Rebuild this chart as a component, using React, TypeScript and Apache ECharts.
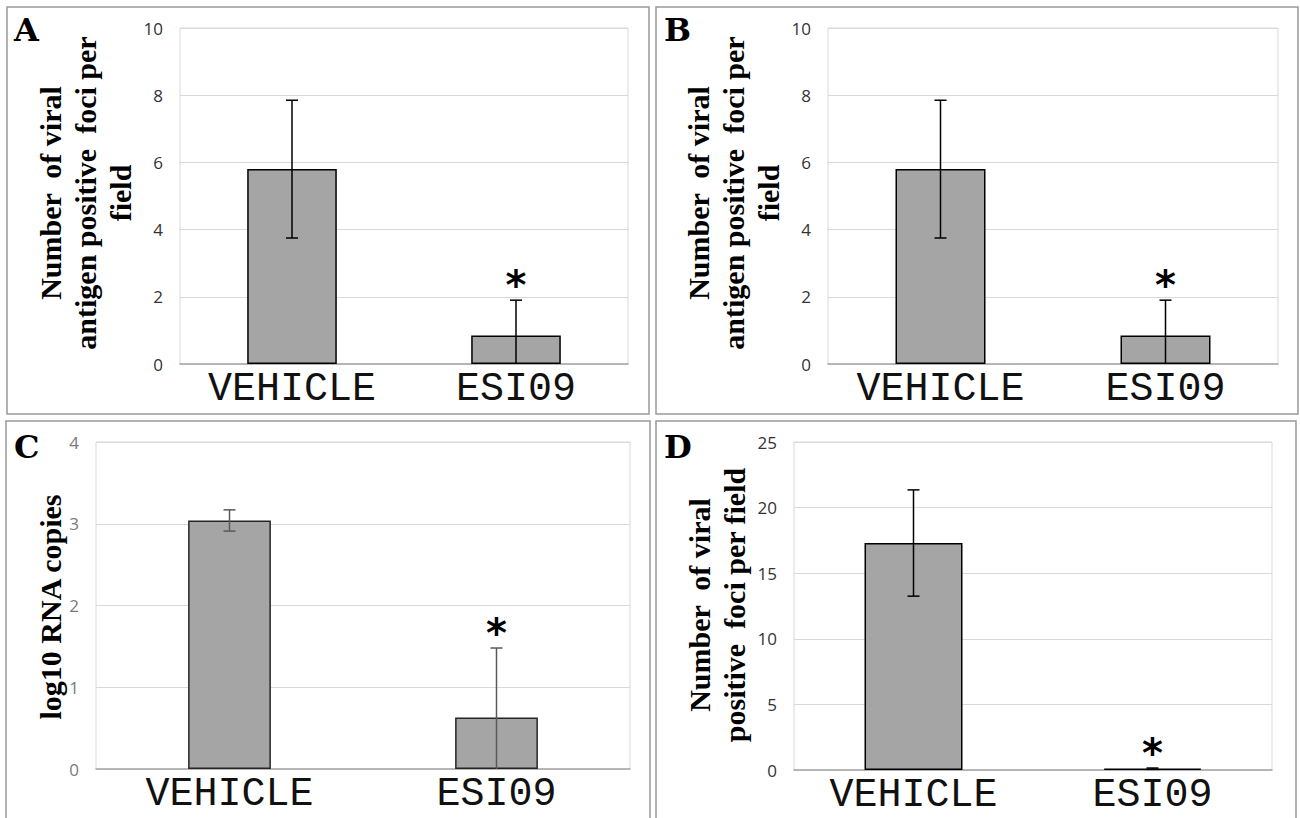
import React, { useEffect, useRef } from 'react';
import * as echarts from 'echarts';

const categories = ['VEHICLE', 'ESI09'];
const significant = [0, 1];

const meansA = [5.8, 0.85];
const errorsA = [2.05, 1.05];
const meansB = [5.8, 0.85];
const errorsB = [2.05, 1.05];
const meansC = [3.04, 0.63];
const errorsC = [0.13, 0.85];
const meansD = [17.3, 0.1];
const errorsD = [4.05, 0.05];

const yMaxAB = 10;
const yStepAB = 2;
const yMaxC = 4;
const yStepC = 1;
const yMaxD = 25;
const yStepD = 5;

const letters = ['A', 'B', 'C', 'D'];
const titleAB = 'Number  of viral\nantigen positive  foci per\nfield';
const titleC = 'log10 RNA copies';
const titleD = 'Number  of viral\npositive  foci per field';

type Panel = {
  means: number[];
  errors: number[];
  max: number;
  step: number;
  grid: { left: number; top: number; width: number; height: number };
  barWidth: string;
  tickColor: string;
  barBorder: string;
  errColor: string;
  errWidth: number;
};

const panels: Panel[] = [
  { means: meansA, errors: errorsA, max: yMaxAB, step: yStepAB, grid: { left: 180, top: 28, width: 448, height: 336 }, barWidth: '40%', tickColor: '#333333', barBorder: '#000', errColor: '#000', errWidth: 1.5 },
  { means: meansB, errors: errorsB, max: yMaxAB, step: yStepAB, grid: { left: 828, top: 28, width: 450, height: 336 }, barWidth: '40%', tickColor: '#333333', barBorder: '#000', errColor: '#000', errWidth: 1.5 },
  { means: meansC, errors: errorsC, max: yMaxC, step: yStepC, grid: { left: 96, top: 442, width: 534, height: 327 }, barWidth: '31%', tickColor: '#7a7a7a', barBorder: '#262626', errColor: '#595959', errWidth: 1.5 },
  { means: meansD, errors: errorsD, max: yMaxD, step: yStepD, grid: { left: 794, top: 442, width: 478, height: 328 }, barWidth: '41%', tickColor: '#333333', barBorder: '#000', errColor: '#000', errWidth: 1.5 },
];

const frames = [
  { x: 7, y: 7, w: 642, h: 407 },
  { x: 656, y: 7, w: 642, h: 407 },
  { x: 6, y: 421, w: 644, h: 420 },
  { x: 656, y: 421, w: 640, h: 420 },
];
const letterPos = [
  { x: 14, y: 30 },
  { x: 664, y: 30 },
  { x: 14, y: 447 },
  { x: 664, y: 447 },
];
const titles = [
  { text: titleAB, x: 85, y: 193 },
  { text: titleAB, x: 733, y: 193 },
  { text: titleC, x: 50, y: 607 },
  { text: titleD, x: 717, y: 605 },
];

export default function App() {
  const ref = useRef<HTMLDivElement>(null);
  useEffect(() => {
    if (!ref.current) return;
    const chart = echarts.init(ref.current, undefined, { renderer: 'svg' });
    const grids: any[] = [];
    const xAxes: any[] = [];
    const yAxes: any[] = [];
    const series: any[] = [];
    panels.forEach((p, i) => {
      grids.push({ ...p.grid, show: true, borderColor: '#d9d9d9', borderWidth: 1, backgroundColor: 'transparent' });
      xAxes.push({
        type: 'category',
        gridIndex: i,
        data: categories,
        axisTick: { show: false },
        axisLine: { lineStyle: { color: '#a6a6a6', width: 1.5 } },
        axisLabel: { fontFamily: 'Liberation Mono', fontSize: 40, color: '#111', margin: 5, interval: 0 },
      });
      yAxes.push({
        type: 'value',
        gridIndex: i,
        min: 0,
        max: p.max,
        interval: p.step,
        axisLine: { show: false },
        axisTick: { show: false },
        splitLine: { lineStyle: { color: '#d9d9d9', width: 1 } },
        axisLabel: { fontFamily: 'Open Sans', fontSize: 17, color: p.tickColor, margin: 17 },
      });
      series.push({
        type: 'bar',
        xAxisIndex: i,
        yAxisIndex: i,
        data: p.means,
        barWidth: p.barWidth,
        itemStyle: { color: '#a5a5a5', borderColor: p.barBorder, borderWidth: 1.5 },
        z: 2,
      });
      series.push({
        type: 'custom',
        xAxisIndex: i,
        yAxisIndex: i,
        z: 3,
        data: p.means.map((m, k) => [k, m, p.errors[k], significant[k]]),
        renderItem: (_params: any, api: any) => {
          const idx = api.value(0);
          const m = api.value(1);
          const e = api.value(2);
          const star = api.value(3);
          const top = api.coord([idx, m + e]);
          const low = m - e;
          const bot = api.coord([idx, Math.max(0, low)]);
          const cap = 6;
          const st = { stroke: p.errColor, lineWidth: p.errWidth };
          const children: any[] = [
            { type: 'line', shape: { x1: top[0], y1: top[1], x2: bot[0], y2: bot[1] }, style: st },
            { type: 'line', shape: { x1: top[0] - cap, y1: top[1], x2: top[0] + cap, y2: top[1] }, style: st },
          ];
          if (low > 0) {
            children.push({ type: 'line', shape: { x1: bot[0] - cap, y1: bot[1], x2: bot[0] + cap, y2: bot[1] }, style: st });
          }
          if (star) {
            children.push({
              type: 'text',
              style: {
                text: '*',
                x: top[0],
                y: top[1] - 15,
                align: 'center',
                verticalAlign: 'middle',
                textAlign: 'center',
                textVerticalAlign: 'middle',
                lineHeight: 18,
                fill: '#000',
                font: 'bold 40px "DejaVu Sans"',
              },
            });
          }
          return { type: 'group', children };
        },
      });
    });

    const graphic: any[] = [];
    frames.forEach((f) => {
      graphic.push({ type: 'rect', shape: { x: f.x, y: f.y, width: f.w, height: f.h }, style: { fill: 'none', stroke: '#999', lineWidth: 1.5 }, z: 0, silent: true });
    });
    letters.forEach((l, i) => {
      graphic.push({
        type: 'text',
        x: letterPos[i].x,
        y: letterPos[i].y,
        style: { text: l, font: 'bold 32px "DejaVu Serif"', fill: '#000', textAlign: 'left', textVerticalAlign: 'middle' },
        z: 10,
      });
    });
    titles.forEach((t) => {
      graphic.push({
        type: 'text',
        x: t.x,
        y: t.y,
        rotation: Math.PI / 2,
        style: { text: t.text, font: 'bold 30px "Liberation Serif"', fill: '#000', textAlign: 'center', textVerticalAlign: 'middle', lineHeight: 35 },
        z: 10,
      });
    });

    chart.setOption({
      animation: false,
      backgroundColor: '#fff',
      grid: grids,
      xAxis: xAxes,
      yAxis: yAxes,
      series,
      graphic,
    });
    return () => chart.dispose();
  }, []);
  return <div ref={ref} style={{ position: 'fixed', left: 0, top: 0, width: 1300, height: 818 }} />;
}
